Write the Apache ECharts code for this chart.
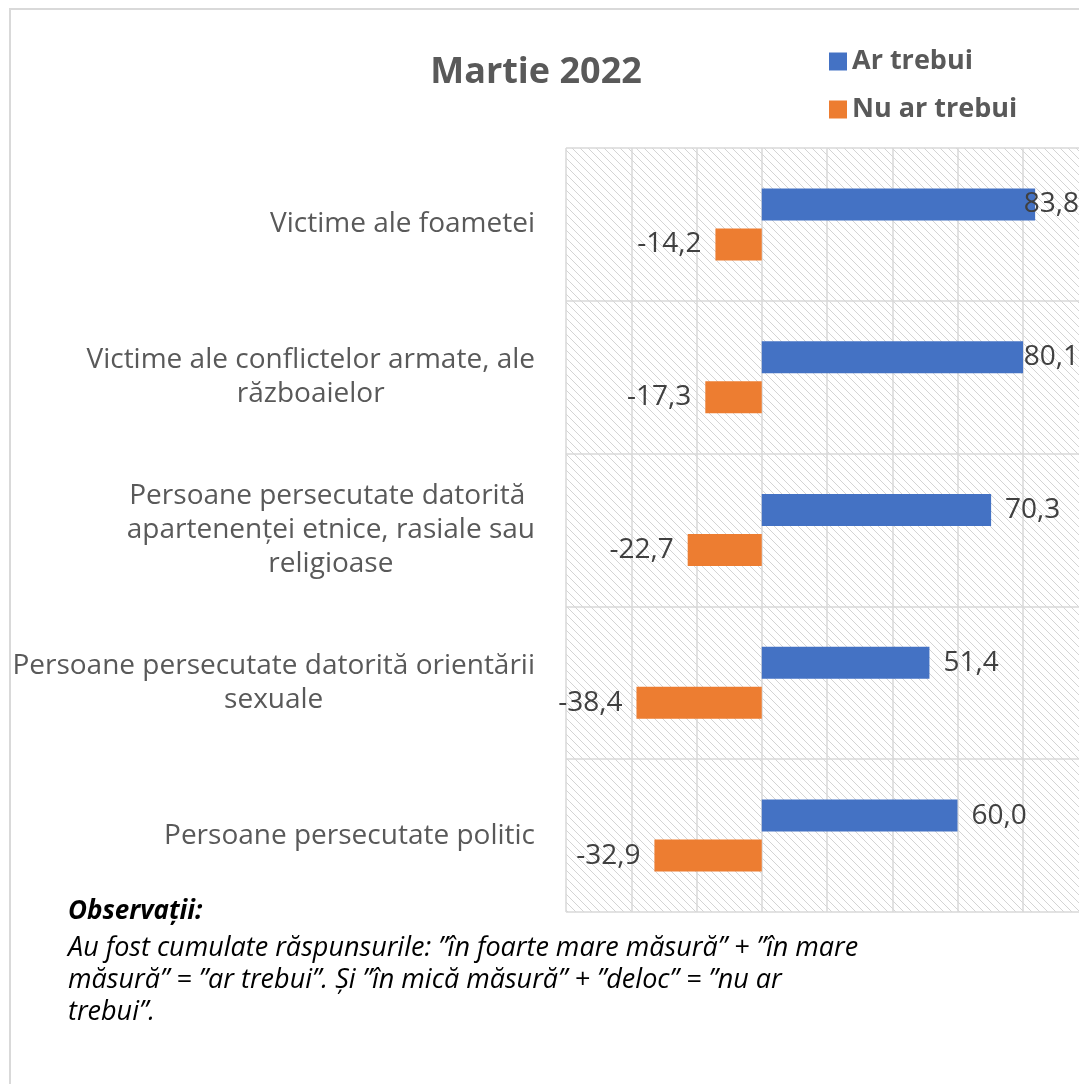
<!DOCTYPE html>
<html>
<head>
<meta charset="utf-8">
<script src="https://cdn.jsdelivr.net/npm/echarts@6/dist/echarts.min.js"></script>
<style>
  html, body { margin: 0; padding: 0; background: #fff; }
  #chart { width: 1079px; height: 1084px; }
</style>
</head>
<body>
<div id="chart"></div>
<script>
const categories = [
  'Victime ale foametei',
  'Victime ale conflictelor armate, ale\nrăzboaielor',
  'Persoane persecutate datorită \napartenenței etnice, rasiale sau\nreligioase',
  'Persoane persecutate datorită orientării\nsexuale',
  'Persoane persecutate politic'
];
const arTrebui = [83.8, 80.1, 70.3, 51.4, 60.0];
const nuArTrebui = [-14.2, -17.3, -22.7, -38.4, -32.9];
const seriesNames = ['Ar trebui', 'Nu ar trebui'];
const titleText = 'Martie 2022';
const noteTitle = 'Observații:';
const noteLines = [
  'Au fost cumulate răspunsurile: ”în foarte mare măsură” + ”în mare',
  'măsură” = ”ar trebui”. Și ”în mică măsură” + ”deloc” = ”nu ar',
  'trebui”.'
];

const FONT = '"Open Sans", sans-serif';
const W = 1079;

// hatch pattern
const tile = document.createElement('canvas');
tile.width = 8; tile.height = 8;
const tc = tile.getContext('2d');
tc.fillStyle = '#ffffff';
tc.fillRect(0, 0, 8, 8);
tc.fillStyle = '#d4d4d4';
for (let i = 0; i < 8; i++) {
  tc.fillRect(i, i, 1, 1);
}

const fmt = v => v.toFixed(1).replace('.', ',');

const chart = echarts.init(document.getElementById('chart'), null, { renderer: 'canvas' });
chart.setOption({
  animation: false,
  backgroundColor: '#ffffff',
  title: {
    text: titleText,
    left: 531,
    textAlign: 'center',
    top: 50,
    textStyle: { fontFamily: FONT, fontWeight: 'bold', fontSize: 36, color: '#595959' }
  },
  legend: {
    orient: 'vertical',
    left: 824,
    top: 43,
    itemWidth: 18,
    itemHeight: 18,
    itemGap: 21,
    icon: 'rect',
    data: seriesNames,
    textStyle: { fontFamily: FONT, fontWeight: 'bold', fontSize: 27, color: '#595959' }
  },
  grid: {
    left: 566,
    top: 148,
    right: -9,
    bottom: 172,
    outerBoundsMode: 'none',
    containLabel: false,
    show: true,
    borderWidth: 0,
    backgroundColor: { image: tile, repeat: 'repeat' }
  },
  xAxis: {
    type: 'value',
    min: -60,
    max: 100,
    interval: 20,
    axisLabel: { show: false },
    axisLine: { show: false },
    axisTick: { show: false },
    splitLine: { show: true, lineStyle: { color: '#d9d9d9', width: 1.5 } }
  },
  yAxis: {
    type: 'category',
    inverse: true,
    data: categories,
    axisLine: { show: false, onZero: false },
    axisTick: { show: false },
    splitLine: { show: true, lineStyle: { color: '#d9d9d9', width: 1.5 } },
    axisLabel: {
      margin: 31,
      align: 'right',
      formatter: v => v.split('\n').map(l => '{c|' + l + '}').join('\n'),
      rich: {
        c: { align: 'center', fontFamily: FONT, fontSize: 28, lineHeight: 34, color: '#595959' }
      }
    }
  },
  series: [
    {
      name: seriesNames[0],
      type: 'bar',
      data: arTrebui,
      barWidth: 32,
      barGap: '25%',
      itemStyle: { color: '#4472C4' },
      label: {
        show: true, position: 'right', distance: 14,
        formatter: p => fmt(p.value),
        fontFamily: FONT, fontSize: 28, color: '#404040'
      }
    },
    {
      name: seriesNames[1],
      type: 'bar',
      data: nuArTrebui,
      barWidth: 32,
      barGap: '25%',
      itemStyle: { color: '#ED7D31' },
      label: {
        show: true, position: 'left', distance: 14,
        formatter: p => fmt(p.value),
        fontFamily: FONT, fontSize: 28, color: '#404040'
      }
    }
  ],
  labelLayout: function (params) {
    const r = params.labelRect;
    if (r.x + r.width > W) {
      return { x: W - r.width, y: r.y, align: 'left', verticalAlign: 'top' };
    }
    return {};
  },
  graphic: [
    {
      type: 'rect',
      shape: { x: 10, y: 9, width: 1500, height: 1500 },
      style: { fill: 'none', stroke: '#d9d9d9', lineWidth: 2 },
      silent: true
    },
    {
      type: 'text',
      left: 68, top: 899,
      style: { text: noteTitle, font: 'italic bold 26px ' + FONT, fill: '#000000' }
    },
    {
      type: 'text',
      left: 68, top: 932,
      style: { text: noteLines.join('\n'), font: 'italic 27px ' + FONT, lineHeight: 32, fill: '#000000' }
    }
  ]
});
</script>
</body>
</html>
